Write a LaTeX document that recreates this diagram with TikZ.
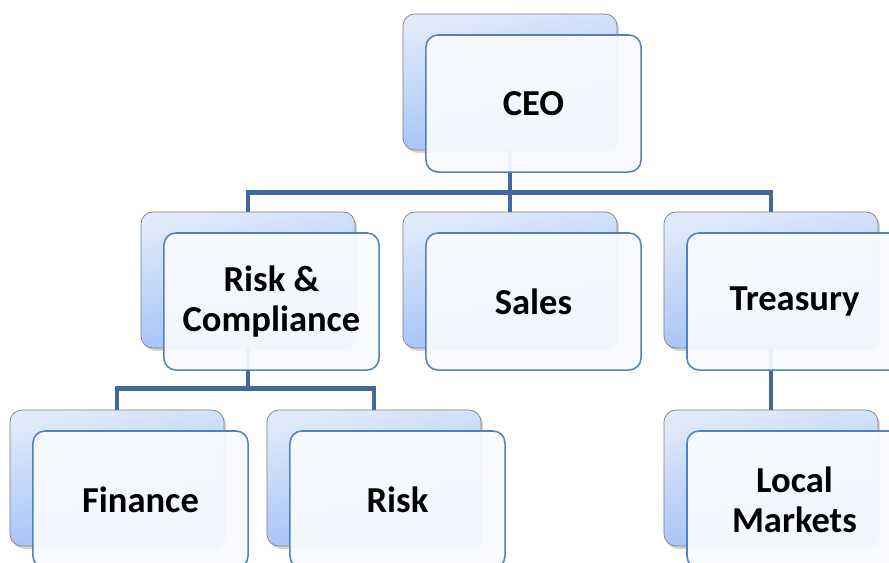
\documentclass[tikz,border=0pt]{standalone}
\usepackage{fontspec}
\setmainfont{Carlito}
\usepackage{tikz}
\usetikzlibrary{calc,positioning,shadows}
\definecolor{backtop}{HTML}{E0EAFB}
\definecolor{backbot}{HTML}{9CBDF6}
\definecolor{frontfill}{HTML}{F8FAFE}
\definecolor{frontline}{HTML}{5282BE}
\definecolor{linkblue}{HTML}{41699C}
\tikzset{
  backbox/.style={rectangle,rounded corners=0.3cm,draw=black!50,line width=0.5pt,
    minimum width=5.35cm,minimum height=3.4cm,inner sep=0pt,
    top color=backtop,bottom color=backbot,shading angle=12,
    drop shadow={shadow xshift=1.5pt,shadow yshift=-2pt,opacity=0.35}},
  frontbox/.style={rectangle,rounded corners=0.3cm,draw=frontline,line width=1.1pt,
    fill=frontfill,fill opacity=0.94,text opacity=1,
    minimum width=5.375cm,minimum height=3.425cm,inner sep=0pt,align=center,
    font=\bfseries\fontsize{26}{28.5}\selectfont},
  link/.style={draw=linkblue,line width=3.3pt}
}

\begin{document}
\begin{tikzpicture}[x=0.025cm,y=-0.025cm]
      \useasboundingbox (0,0) rectangle (889,562);
      \clip (0,0) rectangle (889,562);
      % back cards
      \node[backbox] (ceoback) at (510,82) {};
      \node[backbox] (rcback) at (248,280) {};
      \node[backbox] (salesback) at (510,280) {};
      \node[backbox] (treasback) at (771,280) {};
      \node[backbox] (finback) at (117,478) {};
      \node[backbox] (riskback) at (374,478) {};
      \node[backbox] (localback) at (771,478) {};
      % tree lines
      \coordinate (top) at ($(ceoback.south)+(0,42)$);
      \coordinate (mid) at ($(rcback.south)+(0,40)$);
      \draw[link] (rcback.north) |- (top) -| (treasback.north);
      \draw[link] (ceoback.south) -- (salesback.north);
      \draw[link] (finback.north) |- (mid) -| (riskback.north);
      \draw[link] (rcback.south) -- (mid);
      \draw[link] (treasback.south) -- (localback.north);
      % front cards
      \node[frontbox] (ceo) at ($(ceoback)+(23.5,21.5)$) {CEO};
      \node[frontbox] (rc) at ($(rcback)+(23.5,21.5)$) {Risk \&\\Compliance};
      \node[frontbox] (sales) at ($(salesback)+(23.5,21.5)$) {Sales};
      \node[frontbox] (treas) at ($(treasback)+(23.5,21.5)$) {Treasury};
      \node[frontbox] (fin) at ($(finback)+(23.5,21.5)$) {Finance};
      \node[frontbox] (risk) at ($(riskback)+(23.5,21.5)$) {Risk};
      \node[frontbox] (local) at ($(localback)+(23.5,21.5)$) {Local\\Markets};
\end{tikzpicture}
\end{document}
